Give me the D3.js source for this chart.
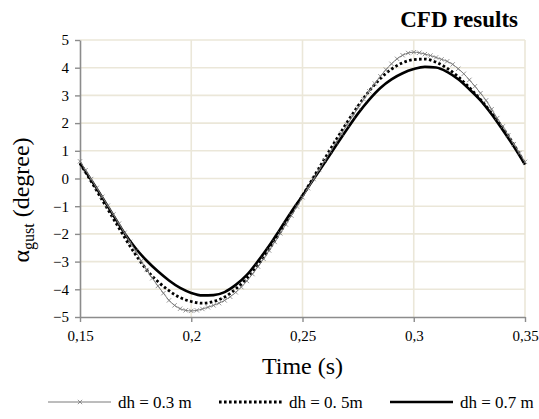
<!DOCTYPE html>
<html>
<head>
<meta charset="utf-8">
<script src="https://cdn.jsdelivr.net/npm/d3@7"></script>
<style>
  body { margin: 0; background: #fff; }
  svg, svg text { font-family: "Liberation Serif", "DejaVu Serif", serif; }
</style>
</head>
<body>
<div id="chart"></div>
<script>
// time samples (s)
var timeFine = [0.15,0.1525,0.155,0.1575,0.16,0.1625,0.165,0.1675,0.17,0.1725,
  0.175,0.1775,0.18,0.1825,0.185,0.1875,0.19,0.1925,0.195,0.1975,
  0.2,0.2025,0.205,0.2075,0.21,0.2125,0.215,0.2175,0.22,0.2225,
  0.225,0.2275,0.23,0.2325,0.235,0.2375,0.24,0.2425,0.245,0.2475,
  0.25,0.2525,0.255,0.2575,0.26,0.2625,0.265,0.2675,0.27,0.2725,
  0.275,0.2775,0.28,0.2825,0.285,0.2875,0.29,0.2925,0.295,0.2975,
  0.3,0.3025,0.305,0.3075,0.31,0.3125,0.315,0.3175,0.32,0.3225,
  0.325,0.3275,0.33,0.3325,0.335,0.3375,0.34,0.3425,0.345,0.3475,0.35];
var timeCoarse = [0.15,0.155,0.16,0.165,0.17,0.175,0.18,0.185,0.19,0.195,
  0.2,0.205,0.21,0.215,0.22,0.225,0.23,0.235,0.24,0.245,
  0.25,0.255,0.26,0.265,0.27,0.275,0.28,0.285,0.29,0.295,
  0.3,0.305,0.31,0.315,0.32,0.325,0.33,0.335,0.34,0.345,0.35];

// alpha_gust (degree)
var dh03 = [0.62,0.30,-0.02,-0.34,-0.66,-0.98,-1.30,-1.63,-1.96,-2.29,
  -2.62,-2.98,-3.30,-3.60,-3.88,-4.14,-4.40,-4.58,-4.70,-4.76,
  -4.78,-4.76,-4.71,-4.65,-4.58,-4.50,-4.40,-4.27,-4.11,-3.92,
  -3.70,-3.45,-3.18,-2.90,-2.60,-2.29,-1.98,-1.66,-1.34,-1.01,
  -0.68,-0.35,-0.02,0.31,0.64,0.97,1.30,1.62,1.94,2.25,
  2.56,2.86,3.15,3.43,3.69,3.93,4.14,4.32,4.45,4.53,
  4.56,4.54,4.49,4.44,4.37,4.30,4.23,4.12,3.96,3.78,
  3.56,3.33,3.08,2.82,2.50,2.18,1.88,1.56,1.24,0.92,0.60];
var dh05 = [0.55,-0.10,-0.78,-1.45,-2.12,-2.75,-3.30,-3.72,-4.05,-4.30,
  -4.44,-4.50,-4.44,-4.28,-3.99,-3.60,-3.12,-2.55,-1.93,-1.27,
  -0.62,0.05,0.72,1.38,2.02,2.62,3.16,3.61,3.95,4.18,
  4.29,4.31,4.20,3.98,3.67,3.28,2.85,2.36,1.83,1.22,0.52];
var dh07 = [0.55,-0.05,-0.68,-1.33,-1.98,-2.52,-2.97,-3.35,-3.68,-3.95,
  -4.13,-4.22,-4.21,-4.10,-3.84,-3.48,-2.98,-2.43,-1.82,-1.20,
  -0.62,-0.02,0.58,1.18,1.78,2.35,2.85,3.27,3.58,3.80,
  3.95,4.03,4.01,3.85,3.58,3.22,2.82,2.32,1.75,1.15,0.50];

var xTicks = [0.15,0.2,0.25,0.3,0.35];
var xTickLabels = ["0,15","0,2","0,25","0,3","0,35"];
var yTicks = [-5,-4,-3,-2,-1,0,1,2,3,4,5];
var legendLabels = ["dh = 0.3 m","dh = 0. 5m","dh = 0.7 m"];

var serif = "'Liberation Serif', 'DejaVu Serif', serif";

var svgWidth = 539;
var svgHeight = 419;
var margin = {top: 40, right: 14, bottom: 102, left: 80};
var width = svgWidth - margin.left - margin.right;
var height = svgHeight - margin.top - margin.bottom;

var svg = d3.select("#chart")
            .append("svg")
            .attr("width", svgWidth)
            .attr("height", svgHeight)
            .attr("font-family", serif);

var chartGroup = svg.append("g")
                    .attr("transform", `translate(${margin.left},${margin.top})`);

var xScale = d3.scaleLinear().domain([0.15,0.35]).range([0,width]);
var yScale = d3.scaleLinear().domain([-5,5]).range([height,0]);

// grid
chartGroup.append("g")
  .selectAll("line.hgrid")
  .data(yTicks.filter(d => d > -5))
  .enter().append("line")
  .attr("x1", 0).attr("x2", width)
  .attr("y1", d => yScale(d)).attr("y2", d => yScale(d))
  .attr("stroke", "#ebe7d9").attr("stroke-width", 1.6);
chartGroup.append("g")
  .selectAll("line.vgrid")
  .data(xTicks.filter(d => d > 0.15))
  .enter().append("line")
  .attr("x1", d => xScale(d)).attr("x2", d => xScale(d))
  .attr("y1", 0).attr("y2", height)
  .attr("stroke", "#ebe7d9").attr("stroke-width", 1.6);

// axes
var bottomAxis = d3.axisBottom(xScale)
  .tickValues(xTicks)
  .tickFormat((d, i) => xTickLabels[i])
  .tickSize(5).tickSizeOuter(0).tickPadding(8);
var leftAxis = d3.axisLeft(yScale)
  .tickValues(yTicks)
  .tickSize(5).tickSizeOuter(0).tickPadding(6);

var xg = chartGroup.append("g")
  .attr("transform", `translate(0,${height})`)
  .call(bottomAxis);
var yg = chartGroup.append("g").call(leftAxis);

[xg, yg].forEach(function(g) {
  g.attr("font-family", serif).attr("font-size", 15);
  g.select(".domain").attr("stroke", "#8c8c8c").attr("stroke-width", 1.6);
  g.selectAll(".tick line").attr("stroke", "#8c8c8c").attr("stroke-width", 1.4);
  g.selectAll(".tick text").attr("fill", "#000");
});

// series
var line = d3.line()
  .x(d => xScale(d[0]))
  .y(d => yScale(d[1]))
  .curve(d3.curveMonotoneX);

var s03 = timeFine.map((t, i) => [t, dh03[i]]);
var s05 = timeCoarse.map((t, i) => [t, dh05[i]]);
var s07 = timeCoarse.map((t, i) => [t, dh07[i]]);

chartGroup.append("path")
  .datum(s07)
  .attr("d", line)
  .attr("fill", "none")
  .attr("stroke", "#000")
  .attr("stroke-width", 2.6);

chartGroup.append("path")
  .datum(s05)
  .attr("d", line)
  .attr("fill", "none")
  .attr("stroke", "#000")
  .attr("stroke-width", 2.8)
  .attr("stroke-dasharray", "2.6,2.4");

chartGroup.append("path")
  .datum(s03)
  .attr("d", line)
  .attr("fill", "none")
  .attr("stroke", "#7a7a7a")
  .attr("stroke-width", 1);

var cross = d3.symbol().type(d3.symbolTimes).size(14);
chartGroup.selectAll("path.mark")
  .data(s03)
  .enter().append("path")
  .attr("class", "mark")
  .attr("d", cross)
  .attr("transform", d => `translate(${xScale(d[0])},${yScale(d[1])})`)
  .attr("fill", "none")
  .attr("stroke", "#7a7a7a")
  .attr("stroke-width", 0.8);

// titles
svg.append("text")
  .attr("x", 518)
  .attr("y", 27)
  .attr("text-anchor", "end")
  .attr("font-size", 23)
  .attr("font-weight", "bold")
  .text("CFD results");

svg.append("text")
  .attr("x", margin.left + width / 2)
  .attr("y", 374)
  .attr("text-anchor", "middle")
  .attr("font-size", 24)
  .text("Time (s)");

var yTitle = svg.append("text")
  .attr("transform", "translate(29,200) rotate(-90)")
  .attr("text-anchor", "middle")
  .attr("font-size", 24);
yTitle.append("tspan").text("\u03b1");
yTitle.append("tspan").attr("dy", 5).attr("font-size", 16).text("gust");
yTitle.append("tspan").attr("dy", -5).text(" (degree)");

// legend
var legend = svg.append("g").attr("transform", "translate(0,402)");
var legendX = [48, 219, 390];

legend.append("line")
  .attr("x1", legendX[0]).attr("x2", legendX[0] + 63)
  .attr("stroke", "#7a7a7a").attr("stroke-width", 1);
legend.append("path")
  .attr("d", cross)
  .attr("transform", `translate(${legendX[0] + 32},0)`)
  .attr("fill", "none").attr("stroke", "#7a7a7a").attr("stroke-width", 0.8);
legend.append("line")
  .attr("x1", legendX[1]).attr("x2", legendX[1] + 64)
  .attr("stroke", "#000").attr("stroke-width", 2.8)
  .attr("stroke-dasharray", "2.6,2.4");
legend.append("line")
  .attr("x1", legendX[2]).attr("x2", legendX[2] + 63)
  .attr("stroke", "#000").attr("stroke-width", 2.6);

legend.selectAll("text")
  .data(legendLabels)
  .enter().append("text")
  .attr("x", (d, i) => legendX[i] + 70)
  .attr("y", 6)
  .attr("font-size", 17)
  .text(d => d);
</script>
</body>
</html>
